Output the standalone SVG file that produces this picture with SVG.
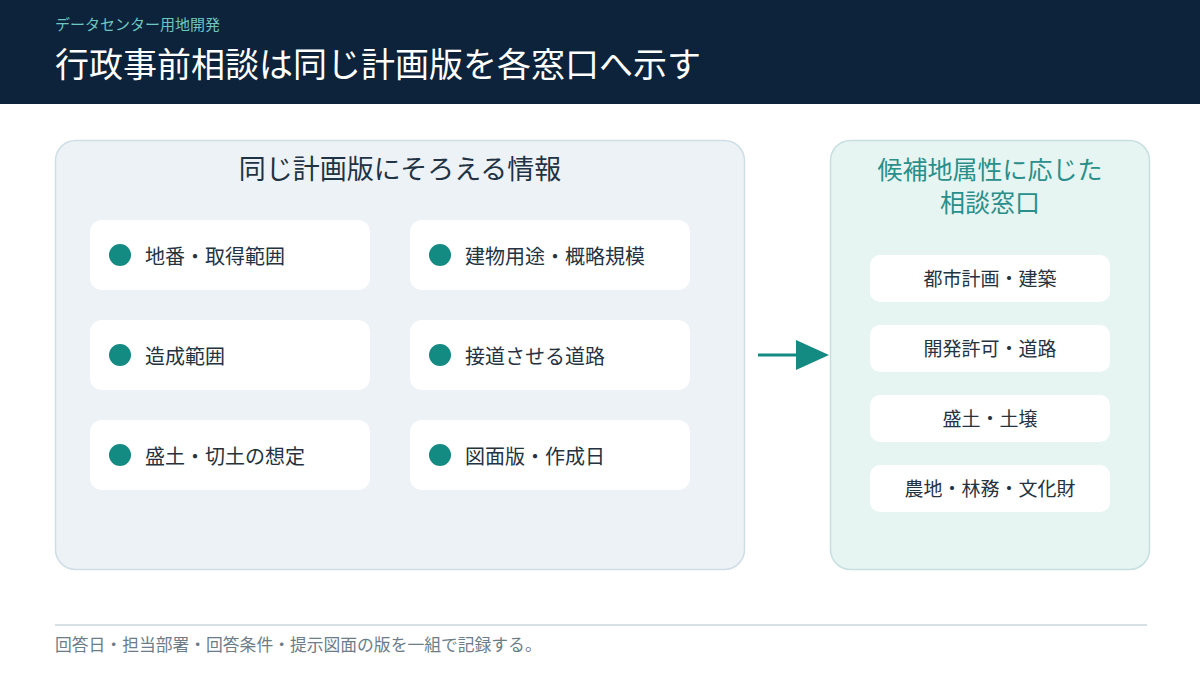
<svg xmlns="http://www.w3.org/2000/svg" width="1200" height="675" viewBox="0 0 1200 675">
<defs>
<style>
text{font-family:"Noto Sans CJK JP","Noto Sans",sans-serif}
.card{fill:#ffffff}
.lbl{font-size:20px;fill:#24333f}
.dot{fill:#138a82}
.win{font-size:19px;fill:#24333f;text-anchor:middle}
</style>
</defs>
<rect x="0" y="0" width="1200" height="675" fill="#ffffff"/>
<g id="header">
<rect x="0" y="0" width="1200" height="104" fill="#0c233b"/>
<text x="55" y="30" font-size="15" fill="#6fc6c0">データセンター用地開発</text>
<text x="55" y="77" font-size="34" fill="#ffffff">行政事前相談は同じ計画版を各窓口へ示す</text>
</g>
<g id="left-panel">
<rect x="55.5" y="140.5" width="689" height="429" rx="20" fill="#edf2f7" stroke="#cfdee4" stroke-width="1.5"/>
<text x="400" y="179" font-size="27" fill="#1f3344" text-anchor="middle">同じ計画版にそろえる情報</text>
</g>
<g id="item-1"><rect class="card" x="90" y="220" width="280" height="70" rx="12"/><circle class="dot" cx="120" cy="255" r="11"/><text class="lbl" x="145" y="264">地番・取得範囲</text></g>
<g id="item-2"><rect class="card" x="410" y="220" width="280" height="70" rx="12"/><circle class="dot" cx="440" cy="255" r="11"/><text class="lbl" x="465" y="264">建物用途・概略規模</text></g>
<g id="item-3"><rect class="card" x="90" y="320" width="280" height="70" rx="12"/><circle class="dot" cx="120" cy="355" r="11"/><text class="lbl" x="145" y="364">造成範囲</text></g>
<g id="item-4"><rect class="card" x="410" y="320" width="280" height="70" rx="12"/><circle class="dot" cx="440" cy="355" r="11"/><text class="lbl" x="465" y="364">接道させる道路</text></g>
<g id="item-5"><rect class="card" x="90" y="420" width="280" height="70" rx="12"/><circle class="dot" cx="120" cy="455" r="11"/><text class="lbl" x="145" y="464">盛土・切土の想定</text></g>
<g id="item-6"><rect class="card" x="410" y="420" width="280" height="70" rx="12"/><circle class="dot" cx="440" cy="455" r="11"/><text class="lbl" x="465" y="464">図面版・作成日</text></g>
<g id="right-panel">
<rect x="830.5" y="140.5" width="319" height="429" rx="20" fill="#e6f5f2" stroke="#c8dfe0" stroke-width="1.5"/>
<text x="990" y="179" font-size="25" fill="#2a8f8a" text-anchor="middle">候補地属性に応じた</text>
<text x="990" y="212" font-size="25" fill="#2a8f8a" text-anchor="middle">相談窓口</text>
</g>
<g id="win-1"><rect class="card" x="870" y="255" width="240" height="47" rx="10"/><text class="win" x="990" y="286">都市計画・建築</text></g>
<g id="win-2"><rect class="card" x="870" y="325" width="240" height="47" rx="10"/><text class="win" x="990" y="356">開発許可・道路</text></g>
<g id="win-3"><rect class="card" x="870" y="395" width="240" height="47" rx="10"/><text class="win" x="990" y="426">盛土・土壌</text></g>
<g id="win-4"><rect class="card" x="870" y="465" width="240" height="47" rx="10"/><text class="win" x="990" y="496">農地・林務・文化財</text></g>
<g id="connectors">
<line x1="758" y1="355" x2="800" y2="355" stroke="#138a82" stroke-width="3"/>
<path d="M796,340 L829,355 L796,370 z" fill="#138a82"/>
</g>
<g id="footer">
<line x1="55" y1="625" x2="1147" y2="625" stroke="#d5e1e7" stroke-width="2"/>
<text x="55" y="651" font-size="16.8" fill="#6b7d89">回答日・担当部署・回答条件・提示図面の版を一組で記録する。</text>
</g>
</svg>
